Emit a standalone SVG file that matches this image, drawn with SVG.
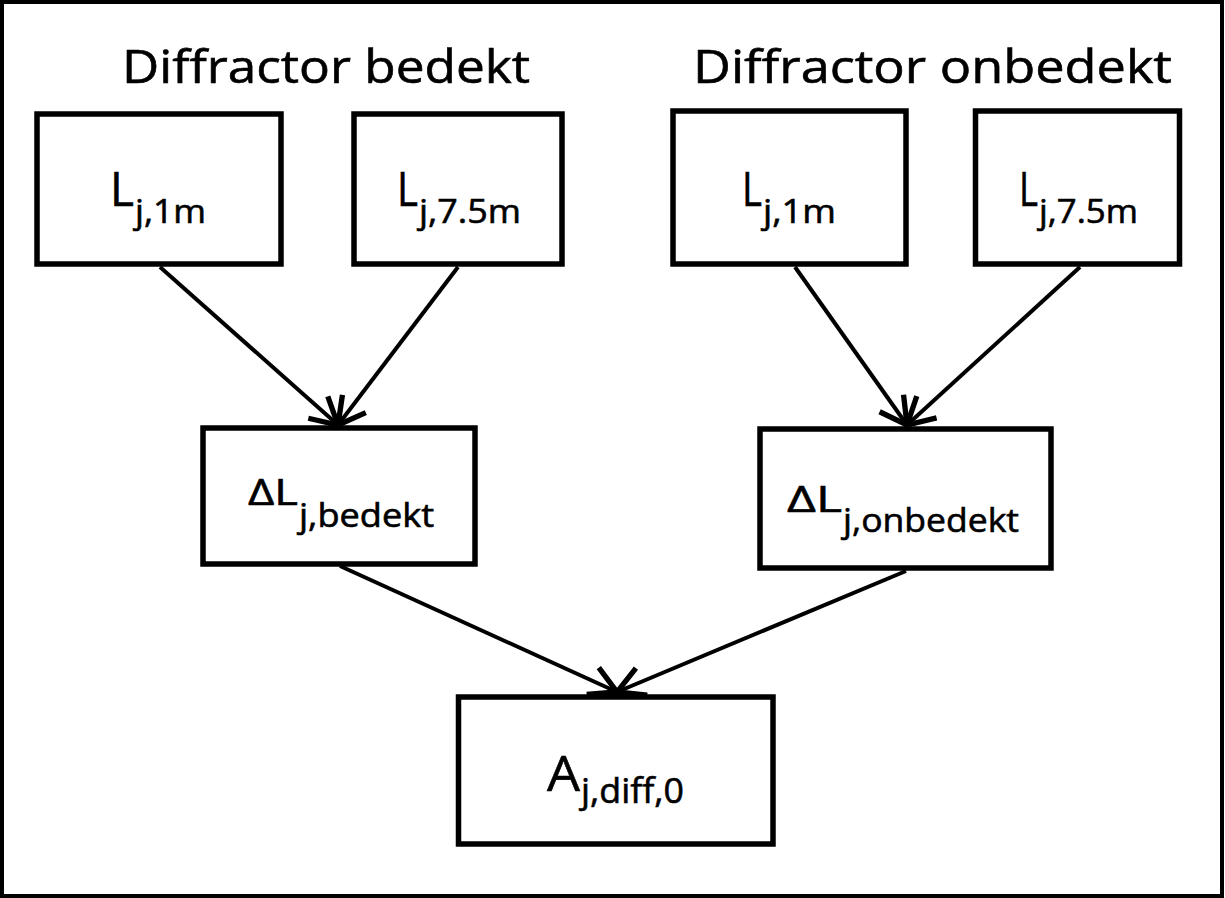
<svg xmlns="http://www.w3.org/2000/svg" width="1225" height="898" viewBox="0 0 1225 898">
<defs>
<style>
.box{fill:#fff;stroke:#000;stroke-width:5.5}
.t{font-family:"Open Sans","Liberation Sans",sans-serif;fill:#000;stroke:#000;stroke-width:0.6}
.conn line{stroke:#000;stroke-width:4;fill:none}
</style>
<marker id="arr" markerUnits="userSpaceOnUse" markerWidth="40" markerHeight="40" refX="0" refY="0" viewBox="-25 -15 30 30" orient="auto" overflow="visible">
<path d="M -20 -11 L 0 0 L -20 11" fill="none" stroke="#000" stroke-width="4" stroke-linecap="butt" stroke-linejoin="miter"/>
</marker>
</defs>
<rect x="0" y="0" width="1225" height="898" fill="#fff"/>
<rect x="2" y="2" width="1220" height="894" fill="none" stroke="#000" stroke-width="4"/>
<g id="title-bedekt"><text class="t" x="122" y="83" font-size="46" textLength="408" lengthAdjust="spacingAndGlyphs">Diffractor bedekt</text></g>
<g id="title-onbedekt"><text class="t" x="693" y="83" font-size="46" textLength="479" lengthAdjust="spacingAndGlyphs">Diffractor onbedekt</text></g>
<g class="conn" id="connectors">
<line x1="160" y1="267" x2="338" y2="425" marker-end="url(#arr)"/>
<line x1="458" y1="267" x2="338" y2="425" marker-end="url(#arr)"/>
<line x1="795" y1="267" x2="907" y2="425" marker-end="url(#arr)"/>
<line x1="1080" y1="267" x2="907" y2="425" marker-end="url(#arr)"/>
<line x1="340" y1="566" x2="617" y2="692" marker-end="url(#arr)"/>
<line x1="906" y1="571" x2="617" y2="692" marker-end="url(#arr)"/>
</g>
<g id="n-b1m">
<rect class="box" x="37" y="114" width="244" height="150"/>
<text class="t" x="110" y="206" font-size="47" textLength="24" lengthAdjust="spacingAndGlyphs">L</text>
<text class="t" x="135" y="223" font-size="33" textLength="71" lengthAdjust="spacingAndGlyphs">j,1m</text>
</g>
<g id="n-b75m">
<rect class="box" x="354" y="114" width="208" height="150"/>
<text class="t" x="397" y="206" font-size="47" textLength="21" lengthAdjust="spacingAndGlyphs">L</text>
<text class="t" x="419" y="223" font-size="33" textLength="102" lengthAdjust="spacingAndGlyphs">j,7.5m</text>
</g>
<g id="n-o1m">
<rect class="box" x="673" y="111" width="233" height="153"/>
<text class="t" x="742" y="206" font-size="47" textLength="20" lengthAdjust="spacingAndGlyphs">L</text>
<text class="t" x="763" y="223" font-size="33" textLength="73" lengthAdjust="spacingAndGlyphs">j,1m</text>
</g>
<g id="n-o75m">
<rect class="box" x="975.5" y="111" width="204" height="153"/>
<text class="t" x="1019" y="206" font-size="47" textLength="19" lengthAdjust="spacingAndGlyphs">L</text>
<text class="t" x="1039" y="223" font-size="33" textLength="99" lengthAdjust="spacingAndGlyphs">j,7.5m</text>
</g>
<g id="n-dbedekt">
<rect class="box" x="203" y="428" width="272" height="136"/>
<text class="t" x="248" y="505" font-size="36" textLength="50" lengthAdjust="spacingAndGlyphs">ΔL</text>
<text class="t" x="299" y="527" font-size="32" textLength="135" lengthAdjust="spacingAndGlyphs">j,bedekt</text>
</g>
<g id="n-donbedekt">
<rect class="box" x="760" y="429" width="291" height="139"/>
<text class="t" x="787" y="512" font-size="36" textLength="55" lengthAdjust="spacingAndGlyphs">ΔL</text>
<text class="t" x="843" y="532" font-size="33" textLength="176" lengthAdjust="spacingAndGlyphs">j,onbedekt</text>
</g>
<g id="n-adiff">
<rect class="box" x="458.5" y="697" width="314.5" height="147"/>
<text class="t" x="547" y="791" font-size="50" textLength="33" lengthAdjust="spacingAndGlyphs">A</text>
<text class="t" x="581" y="803" font-size="35" textLength="103" lengthAdjust="spacingAndGlyphs">j,diff,0</text>
</g>
</svg>
